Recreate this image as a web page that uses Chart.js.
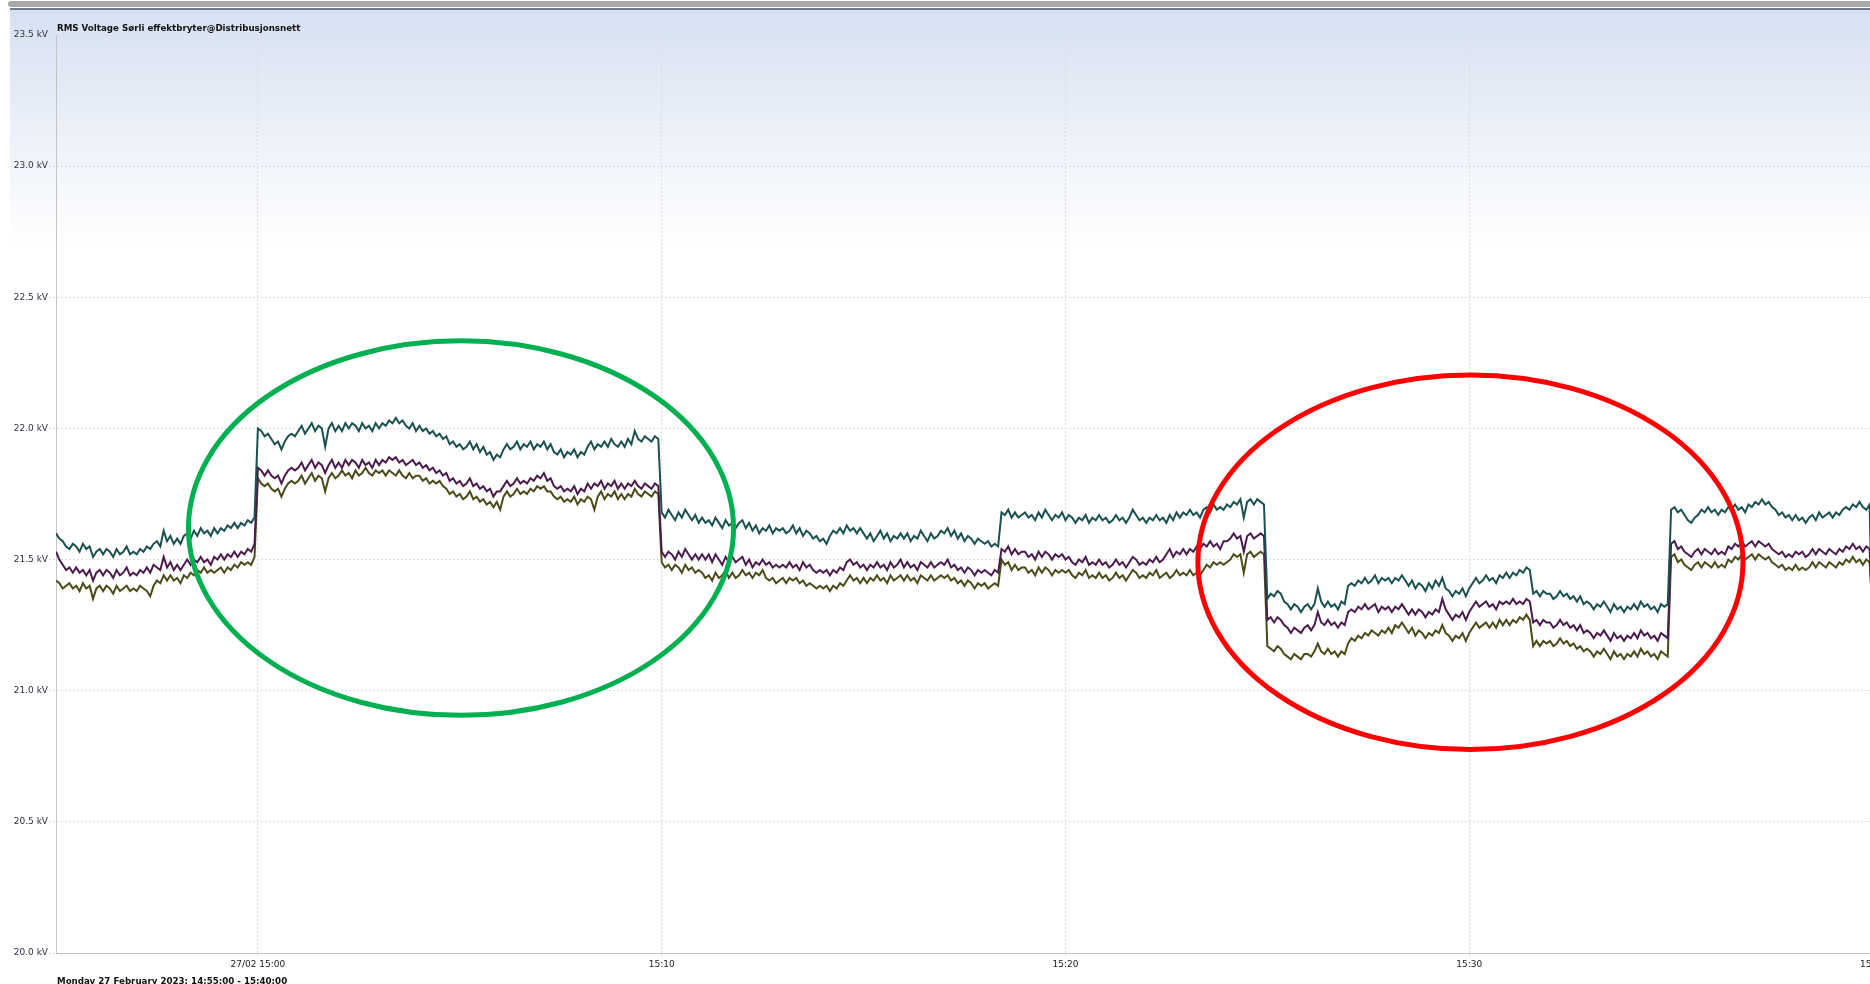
<!DOCTYPE html>
<html>
<head>
<meta charset="utf-8">
<title>RMS Voltage Sørli effektbryter</title>
<script src="https://cdn.jsdelivr.net/npm/chart.js@4.4.0/dist/chart.umd.min.js"></script>
<style>
  html, body { margin: 0; padding: 0; background: #fff; overflow: hidden; width: 1870px; height: 984px; }
  #bar  { position: absolute; left: 8px; top: 1px; width: 1900px; height: 6px; background: #a8a8a8; border-radius: 3px; }
  #rule { position: absolute; left: 10px; top: 8px; width: 1900px; height: 2px; background: #6f7c8c; }
  #wrap { position: absolute; left: 10px; top: 10px; width: 1863px; height: 980px; }
</style>
</head>
<body>
<div id="bar"></div>
<div id="rule"></div>
<div id="wrap"><canvas id="chartRms"></canvas></div>

<script>
// ─── DATA ────────────────────────────────────────────────
// one sample every 5 s from 14:55:00 to 15:40:00, kV (one row = one minute)
const SAMPLE_SEC = 5;

const phaseL1 = [
  21.60,21.58,21.57,21.55,21.54,21.56,21.55,21.53,21.56,21.54,21.55,21.51,
  21.53,21.54,21.52,21.54,21.53,21.51,21.54,21.52,21.53,21.55,21.52,21.53,
  21.52,21.54,21.53,21.55,21.54,21.56,21.57,21.55,21.61,21.57,21.59,21.56,
  21.58,21.56,21.59,21.60,21.58,21.61,21.59,21.62,21.60,21.61,21.59,21.62,
  21.60,21.62,21.61,21.63,21.62,21.64,21.62,21.64,21.63,21.65,21.64,21.66,
  22.00,21.99,21.97,21.98,21.96,21.94,21.95,21.92,21.95,21.97,21.98,21.97,
  21.99,22.01,21.98,22.00,22.02,21.99,22.01,22.00,21.93,22.00,22.02,21.99,
  22.01,21.99,22.02,22.00,22.02,22.01,21.99,22.02,22.00,22.01,21.99,22.02,
  22.00,22.02,22.01,22.03,22.02,22.04,22.02,22.03,22.01,22.00,22.02,21.99,
  22.01,21.99,22.00,21.98,21.99,21.97,21.98,21.96,21.97,21.94,21.95,21.93,
  21.94,21.92,21.93,21.95,21.92,21.94,21.91,21.93,21.90,21.91,21.88,21.90,
  21.89,21.92,21.94,21.92,21.93,21.95,21.92,21.94,21.93,21.95,21.92,21.94,
  21.93,21.95,21.92,21.94,21.91,21.90,21.92,21.89,21.91,21.90,21.92,21.89,
  21.91,21.90,21.93,21.95,21.92,21.94,21.93,21.95,21.93,21.96,21.94,21.93,
  21.95,21.93,21.96,21.94,21.99,21.96,21.95,21.97,21.96,21.95,21.97,21.96,
  21.68,21.66,21.69,21.67,21.65,21.68,21.66,21.69,21.67,21.65,21.67,21.64,
  21.66,21.64,21.65,21.63,21.66,21.64,21.62,21.65,21.63,21.64,21.62,21.64,
  21.65,21.62,21.64,21.61,21.63,21.60,21.62,21.61,21.63,21.60,21.62,21.61,
  21.62,21.60,21.61,21.63,21.60,21.62,21.59,21.61,21.60,21.58,21.59,21.57,
  21.58,21.56,21.59,21.61,21.60,21.62,21.60,21.63,21.61,21.62,21.60,21.62,
  21.60,21.58,21.60,21.57,21.59,21.61,21.58,21.60,21.57,21.59,21.58,21.60,
  21.58,21.60,21.57,21.59,21.58,21.61,21.59,21.57,21.60,21.58,21.59,21.61,
  21.60,21.62,21.59,21.61,21.58,21.60,21.57,21.59,21.58,21.56,21.58,21.57,
  21.56,21.57,21.55,21.56,21.55,21.68,21.67,21.69,21.66,21.68,21.66,21.67,
  21.68,21.66,21.67,21.65,21.68,21.66,21.69,21.67,21.65,21.67,21.66,21.68,
  21.65,21.67,21.66,21.64,21.66,21.65,21.67,21.64,21.66,21.65,21.67,21.65,
  21.66,21.64,21.65,21.67,21.65,21.66,21.64,21.66,21.69,21.67,21.65,21.66,
  21.64,21.66,21.65,21.67,21.65,21.66,21.64,21.67,21.65,21.68,21.66,21.68,
  21.67,21.69,21.67,21.68,21.66,21.69,21.70,21.68,21.71,21.69,21.70,21.69,
  21.71,21.70,21.72,21.71,21.73,21.66,21.72,21.73,21.71,21.73,21.72,21.71,
  21.35,21.37,21.36,21.38,21.37,21.34,21.33,21.31,21.33,21.32,21.30,21.32,
  21.33,21.31,21.33,21.39,21.34,21.32,21.34,21.32,21.33,21.31,21.34,21.33,
  21.40,21.41,21.40,21.42,21.41,21.43,21.41,21.42,21.44,21.41,21.43,21.42,
  21.43,21.41,21.43,21.42,21.44,21.42,21.40,21.42,21.39,21.41,21.40,21.38,
  21.41,21.39,21.42,21.40,21.43,21.39,21.38,21.36,21.38,21.37,21.39,21.36,
  21.39,21.41,21.43,21.41,21.42,21.44,21.42,21.43,21.41,21.44,21.43,21.45,
  21.43,21.45,21.44,21.46,21.45,21.47,21.46,21.37,21.38,21.36,21.38,21.37,
  21.37,21.35,21.36,21.38,21.36,21.37,21.35,21.36,21.34,21.36,21.33,21.34,
  21.33,21.31,21.33,21.32,21.34,21.32,21.30,21.33,21.31,21.32,21.30,21.32,
  21.31,21.33,21.31,21.34,21.32,21.33,21.31,21.32,21.30,21.33,21.32,21.33,
  21.69,21.70,21.68,21.69,21.67,21.65,21.64,21.66,21.67,21.69,21.68,21.70,
  21.68,21.69,21.67,21.69,21.68,21.70,21.69,21.71,21.69,21.70,21.68,21.71,
  21.70,21.72,21.71,21.73,21.71,21.72,21.70,21.69,21.67,21.68,21.66,21.67,
  21.65,21.67,21.65,21.66,21.64,21.66,21.67,21.65,21.68,21.66,21.67,21.68,
  21.66,21.68,21.67,21.69,21.70,21.69,21.71,21.70,21.72,21.70,21.69,21.71,
  21.10
];

const phaseL2 = [
  21.53,21.50,21.48,21.46,21.47,21.45,21.47,21.45,21.46,21.44,21.46,21.42,
  21.45,21.46,21.44,21.46,21.45,21.43,21.46,21.44,21.45,21.47,21.44,21.45,
  21.44,21.46,21.45,21.47,21.45,21.48,21.47,21.46,21.51,21.47,21.49,21.46,
  21.48,21.46,21.48,21.50,21.48,21.50,21.49,21.51,21.49,21.50,21.48,21.51,
  21.50,21.52,21.50,21.52,21.51,21.53,21.51,21.53,21.52,21.54,21.53,21.56,
  21.85,21.84,21.82,21.84,21.82,21.81,21.82,21.79,21.82,21.84,21.85,21.84,
  21.85,21.87,21.84,21.86,21.88,21.85,21.87,21.86,21.83,21.86,21.88,21.85,
  21.87,21.85,21.88,21.86,21.88,21.87,21.85,21.88,21.86,21.87,21.85,21.88,
  21.86,21.88,21.87,21.89,21.88,21.89,21.87,21.88,21.86,21.87,21.88,21.86,
  21.87,21.85,21.86,21.84,21.85,21.83,21.84,21.82,21.83,21.80,21.81,21.79,
  21.80,21.78,21.79,21.81,21.78,21.79,21.77,21.78,21.76,21.77,21.74,21.76,
  21.76,21.78,21.80,21.78,21.79,21.81,21.79,21.80,21.79,21.81,21.80,21.82,
  21.81,21.83,21.80,21.81,21.78,21.77,21.78,21.76,21.77,21.76,21.78,21.75,
  21.77,21.76,21.79,21.77,21.79,21.78,21.80,21.77,21.79,21.78,21.80,21.77,
  21.79,21.77,21.79,21.78,21.80,21.78,21.77,21.79,21.78,21.77,21.79,21.78,
  21.53,21.51,21.53,21.52,21.50,21.53,21.51,21.54,21.52,21.50,21.52,21.50,
  21.52,21.50,21.52,21.49,21.52,21.50,21.48,21.51,21.49,21.51,21.49,21.50,
  21.51,21.48,21.50,21.47,21.49,21.48,21.50,21.48,21.49,21.47,21.48,21.47,
  21.48,21.47,21.49,21.47,21.48,21.46,21.49,21.47,21.48,21.46,21.45,21.46,
  21.45,21.46,21.44,21.46,21.45,21.47,21.46,21.49,21.50,21.48,21.49,21.47,
  21.48,21.46,21.48,21.47,21.49,21.47,21.48,21.46,21.49,21.47,21.48,21.50,
  21.47,21.49,21.47,21.48,21.46,21.49,21.48,21.47,21.49,21.47,21.48,21.49,
  21.48,21.50,21.47,21.48,21.46,21.47,21.45,21.47,21.46,21.44,21.46,21.45,
  21.46,21.45,21.44,21.46,21.45,21.54,21.53,21.55,21.52,21.54,21.52,21.53,
  21.53,21.51,21.52,21.50,21.53,21.51,21.53,21.52,21.50,21.52,21.51,21.52,
  21.50,21.51,21.49,21.48,21.50,21.49,21.51,21.48,21.49,21.48,21.50,21.48,
  21.49,21.47,21.48,21.50,21.48,21.49,21.47,21.49,21.51,21.50,21.48,21.49,
  21.48,21.50,21.49,21.51,21.49,21.50,21.52,21.54,21.51,21.53,21.52,21.54,
  21.52,21.54,21.53,21.55,21.54,21.56,21.55,21.57,21.55,21.56,21.54,21.57,
  21.57,21.58,21.60,21.58,21.59,21.53,21.59,21.60,21.58,21.59,21.60,21.59,
  21.27,21.28,21.26,21.28,21.27,21.25,21.24,21.22,21.24,21.23,21.22,21.24,
  21.25,21.23,21.25,21.30,21.26,21.25,21.27,21.25,21.26,21.24,21.26,21.25,
  21.30,21.31,21.30,21.32,21.31,21.33,21.31,21.32,21.33,21.30,21.32,21.31,
  21.32,21.30,21.32,21.31,21.33,21.31,21.29,21.31,21.29,21.31,21.30,21.28,
  21.30,21.29,21.31,21.30,21.35,21.31,21.29,21.27,21.29,21.28,21.30,21.27,
  21.30,21.32,21.34,21.32,21.33,21.34,21.32,21.33,21.31,21.34,21.33,21.34,
  21.33,21.35,21.33,21.34,21.33,21.35,21.34,21.26,21.27,21.25,21.27,21.26,
  21.26,21.24,21.25,21.27,21.25,21.26,21.24,21.25,21.23,21.25,21.22,21.23,
  21.22,21.20,21.22,21.21,21.23,21.21,21.19,21.22,21.20,21.21,21.19,21.21,
  21.20,21.22,21.20,21.23,21.21,21.22,21.20,21.21,21.19,21.22,21.21,21.20,
  21.56,21.57,21.54,21.55,21.53,21.52,21.51,21.53,21.54,21.52,21.54,21.53,
  21.52,21.54,21.52,21.53,21.52,21.55,21.54,21.56,21.55,21.57,21.55,21.56,
  21.57,21.55,21.57,21.56,21.55,21.56,21.54,21.53,21.52,21.53,21.51,21.52,
  21.51,21.53,21.52,21.53,21.51,21.52,21.54,21.52,21.54,21.53,21.52,21.54,
  21.53,21.52,21.54,21.53,21.55,21.54,21.56,21.54,21.55,21.53,21.55,21.54,
  21.20
];

const phaseL3 = [
  21.42,21.41,21.39,21.40,21.41,21.39,21.40,21.38,21.41,21.39,21.40,21.35,
  21.39,21.40,21.38,21.40,21.39,21.37,21.40,21.38,21.39,21.40,21.38,21.39,
  21.38,21.40,21.39,21.38,21.36,21.40,21.42,21.41,21.44,21.42,21.44,21.42,
  21.43,21.41,21.44,21.43,21.45,21.44,21.46,21.45,21.47,21.45,21.46,21.45,
  21.46,21.47,21.45,21.47,21.46,21.48,21.47,21.49,21.48,21.49,21.48,21.51,
  21.81,21.79,21.78,21.79,21.77,21.76,21.77,21.74,21.77,21.79,21.80,21.79,
  21.80,21.82,21.79,21.81,21.83,21.80,21.82,21.81,21.76,21.81,21.83,21.81,
  21.82,21.84,21.82,21.83,21.81,21.84,21.82,21.83,21.85,21.83,21.82,21.84,
  21.83,21.84,21.82,21.84,21.83,21.82,21.84,21.82,21.81,21.83,21.81,21.82,
  21.82,21.80,21.81,21.79,21.80,21.79,21.80,21.78,21.77,21.75,21.76,21.74,
  21.75,21.73,21.74,21.76,21.73,21.74,21.72,21.73,21.71,21.72,21.70,21.72,
  21.69,21.74,21.76,21.74,21.75,21.77,21.75,21.76,21.75,21.77,21.76,21.78,
  21.77,21.78,21.76,21.76,21.74,21.73,21.74,21.72,21.73,21.72,21.74,21.71,
  21.73,21.72,21.74,21.73,21.69,21.74,21.76,21.73,21.75,21.74,21.76,21.73,
  21.75,21.73,21.75,21.74,21.77,21.75,21.74,21.76,21.75,21.74,21.76,21.75,
  21.49,21.47,21.48,21.46,21.48,21.47,21.45,21.48,21.46,21.47,21.45,21.46,
  21.45,21.43,21.44,21.42,21.45,21.43,21.44,21.46,21.43,21.45,21.43,21.44,
  21.46,21.44,21.45,21.43,21.45,21.44,21.46,21.43,21.42,21.43,21.41,21.42,
  21.43,21.41,21.43,21.42,21.43,21.41,21.42,21.40,21.41,21.40,21.39,21.40,
  21.39,21.40,21.38,21.40,21.39,21.41,21.40,21.42,21.44,21.42,21.43,21.41,
  21.43,21.41,21.43,21.42,21.44,21.42,21.43,21.41,21.44,21.42,21.43,21.44,
  21.42,21.44,21.42,21.43,21.41,21.44,21.43,21.42,21.44,21.42,21.43,21.44,
  21.43,21.44,21.42,21.43,21.41,21.42,21.40,21.42,21.41,21.39,21.41,21.40,
  21.41,21.39,21.40,21.41,21.40,21.50,21.48,21.49,21.46,21.48,21.46,21.47,
  21.47,21.45,21.46,21.44,21.47,21.45,21.47,21.46,21.44,21.46,21.45,21.46,
  21.45,21.46,21.44,21.43,21.45,21.44,21.46,21.43,21.44,21.43,21.45,21.43,
  21.44,21.42,21.43,21.45,21.43,21.44,21.42,21.44,21.46,21.45,21.43,21.44,
  21.43,21.45,21.44,21.46,21.43,21.44,21.45,21.43,21.44,21.46,21.44,21.45,
  21.44,21.46,21.44,21.45,21.44,21.46,21.48,21.47,21.49,21.48,21.49,21.48,
  21.49,21.50,21.52,21.51,21.52,21.45,21.52,21.53,21.51,21.52,21.53,21.52,
  21.17,21.16,21.15,21.17,21.16,21.14,21.13,21.12,21.14,21.13,21.12,21.14,
  21.14,21.13,21.15,21.18,21.15,21.14,21.16,21.14,21.15,21.13,21.15,21.14,
  21.18,21.20,21.19,21.21,21.20,21.22,21.21,21.23,21.22,21.21,21.23,21.22,
  21.24,21.22,21.25,21.24,21.26,21.24,21.22,21.24,21.21,21.23,21.22,21.20,
  21.22,21.21,21.23,21.22,21.25,21.22,21.21,21.19,21.21,21.20,21.22,21.19,
  21.22,21.24,21.26,21.24,21.25,21.26,21.24,21.26,21.24,21.27,21.25,21.27,
  21.25,21.27,21.26,21.28,21.27,21.29,21.27,21.17,21.19,21.17,21.19,21.18,
  21.19,21.17,21.18,21.20,21.18,21.19,21.17,21.18,21.16,21.17,21.15,21.16,
  21.15,21.13,21.15,21.14,21.16,21.14,21.12,21.15,21.13,21.14,21.12,21.14,
  21.13,21.15,21.13,21.16,21.14,21.15,21.13,21.14,21.12,21.15,21.14,21.13,
  21.51,21.52,21.49,21.50,21.48,21.47,21.46,21.48,21.49,21.47,21.49,21.48,
  21.47,21.49,21.47,21.48,21.47,21.50,21.49,21.51,21.50,21.52,21.50,21.51,
  21.52,21.50,21.52,21.51,21.50,21.51,21.49,21.48,21.47,21.48,21.46,21.47,
  21.46,21.48,21.46,21.47,21.46,21.47,21.49,21.47,21.49,21.48,21.47,21.49,
  21.48,21.47,21.49,21.48,21.50,21.49,21.51,21.49,21.50,21.48,21.50,21.49,
  21.28
];

// x axis: minutes after 14:55
const tickMinutes = [5, 15, 25, 35, 45];
const tickLabels  = ['27/02 15:00', '15:10', '15:20', '15:30', '15:40'];

// hand-drawn ellipses: centre (minutes, kV), half width (minutes), half height (kV)
const markMinutes = [10.03, 35.03];
const markKV      = [21.62, 21.49];
const markHalfMin = [6.75, 6.75];
const markHalfKV  = [0.714, 0.714];
const markColors  = ['#00b050', '#ff0000'];

const chartTitle   = 'RMS Voltage Sørli effektbryter@Distribusjonsnett';
const chartCaption = 'Monday 27 February 2023: 14:55:00 - 15:40:00';

// ─── CHART ───────────────────────────────────────────────
const FONT      = "'DejaVu Sans', Verdana, sans-serif";
const gridColor = '#dcdcdc';
const minutes   = phaseL1.map((_, i) => i * SAMPLE_SEC / 60);

const backdrop = {
  id: 'backdrop',
  beforeDraw(chart) {
    const { ctx, width, height } = chart;
    const g = ctx.createLinearGradient(0, 0, 0, 235);
    g.addColorStop(0, '#d7e1f2');
    g.addColorStop(1, '#ffffff');
    ctx.save();
    ctx.fillStyle = g;
    ctx.fillRect(0, 0, width, height);
    ctx.restore();
  },
};

const ellipses = {
  id: 'ellipses',
  afterDatasetsDraw(chart) {
    const { ctx, scales: { x, y } } = chart;
    ctx.save();
    ctx.lineWidth = 5;
    markMinutes.forEach((m, i) => {
      const cx = x.getPixelForValue(m);
      const cy = y.getPixelForValue(markKV[i]);
      const rx = Math.abs(x.getPixelForValue(m + markHalfMin[i]) - cx);
      const ry = Math.abs(y.getPixelForValue(markKV[i] + markHalfKV[i]) - cy);
      ctx.strokeStyle = markColors[i];
      ctx.beginPath();
      ctx.ellipse(cx, cy, rx, ry, 0, 0, Math.PI * 2);
      ctx.stroke();
    });
    ctx.restore();
  },
};

const captions = {
  id: 'captions',
  afterDraw(chart) {
    const { ctx, chartArea } = chart;
    ctx.save();
    ctx.fillStyle = '#111';
    ctx.font = 'bold 8.7px ' + FONT;
    ctx.textAlign = 'left';
    ctx.textBaseline = 'alphabetic';
    ctx.fillText(chartTitle, chartArea.left + 1, 20.5);
    ctx.fillText(chartCaption, chartArea.left + 1, 973.6);
    ctx.restore();
  },
};

const mk = document.getElementById('chartRms');
new Chart(mk, {
  type: 'line',
  data: {
    labels: minutes,
    datasets: [
      { label: 'L1', data: phaseL1, borderColor: '#1b5050' },
      { label: 'L2', data: phaseL2, borderColor: '#4b1b4e' },
      { label: 'L3', data: phaseL3, borderColor: '#4b4b19' },
    ].map(d => ({ ...d, borderWidth: 2, pointRadius: 0, tension: 0, fill: false })),
  },
  options: {
    responsive: true,
    maintainAspectRatio: false,
    animation: false,
    events: [],
    layout: { padding: { top: 25, left: 0, right: 0, bottom: 0 } },
    plugins: { legend: { display: false }, tooltip: { enabled: false } },
    scales: {
      x: {
        type: 'linear',
        min: 0,
        max: 45,
        afterBuildTicks: s => { s.ticks = tickMinutes.map(v => ({ value: v })); },
        afterFit: s => { s.height = 37; s.paddingLeft = 0; s.paddingRight = 0; },
        grid:   { color: gridColor, tickLength: 4, tickBorderDash: [2, 2] },
        border: { color: '#c4c4c4', dash: [2, 2] },
        ticks: {
          autoSkip: false,
          maxRotation: 0,
          padding: 2,
          color: '#222',
          font: { family: FONT, size: 9 },
          callback: (v, i) => tickLabels[i],
        },
      },
      y: {
        min: 20,
        max: 23.5,
        afterFit: s => { s.width = 46; },
        grid:   { color: gridColor, tickLength: 7, tickBorderDash: [2, 2] },
        border: { color: '#c4c4c4', dash: [2, 2] },
        ticks: {
          stepSize: 0.5,
          padding: 1,
          color: '#2e2e40',
          font: { family: FONT, size: 9 },
          callback: v => v.toFixed(1) + ' kV',
        },
      },
    },
  },
  plugins: [backdrop, ellipses, captions],
});
</script>
</body>
</html>
